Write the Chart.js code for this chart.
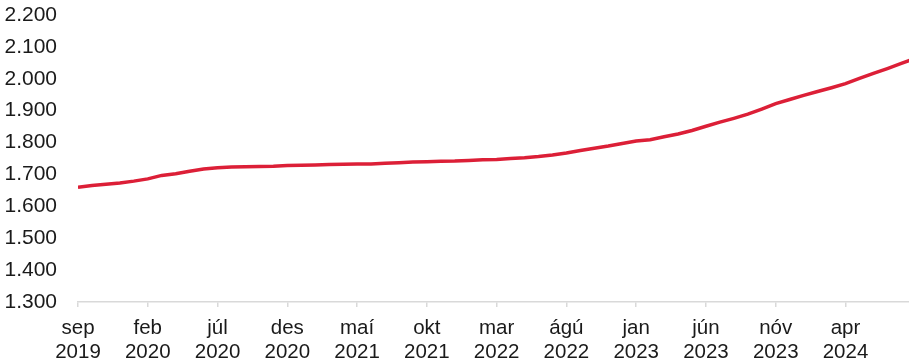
<!DOCTYPE html>
<html>
<head>
<meta charset="utf-8">
<script src="https://cdn.jsdelivr.net/npm/chart.js@4/dist/chart.umd.min.js"></script>
<style>
  html, body { margin: 0; padding: 0; background: #ffffff; overflow: hidden; }
  #wrap { position: relative; width: 909px; height: 362px; }
</style>
</head>
<body>
<div id="wrap"><canvas id="c"></canvas></div>
<script>
// Monthly series, sep 2019 – sep 2024
const months = [
  'sep 2019','okt 2019','nóv 2019','des 2019','jan 2020','feb 2020','mar 2020','apr 2020','maí 2020','jún 2020','júl 2020','ágú 2020',
  'sep 2020','okt 2020','nóv 2020','des 2020','jan 2021','feb 2021','mar 2021','apr 2021','maí 2021','jún 2021','júl 2021','ágú 2021',
  'sep 2021','okt 2021','nóv 2021','des 2021','jan 2022','feb 2022','mar 2022','apr 2022','maí 2022','jún 2022','júl 2022','ágú 2022',
  'sep 2022','okt 2022','nóv 2022','des 2022','jan 2023','feb 2023','mar 2023','apr 2023','maí 2023','jún 2023','júl 2023','ágú 2023',
  'sep 2023','okt 2023','nóv 2023','des 2023','jan 2024','feb 2024','mar 2024','apr 2024','maí 2024','jún 2024','júl 2024','ágú 2024',
  'sep 2024'
];
const values = [
  1660, 1665, 1669, 1673, 1679, 1686, 1697, 1702, 1710, 1717, 1721, 1723,
  1724, 1725, 1726, 1728, 1729, 1730, 1731, 1732, 1733, 1733, 1735, 1737,
  1739, 1740, 1741, 1742, 1744, 1746, 1747, 1750, 1752, 1756, 1761, 1767,
  1775, 1782, 1789, 1797, 1805, 1809, 1818, 1827, 1838, 1851, 1864, 1876,
  1889, 1905, 1922, 1935, 1948, 1960, 1972, 1985, 2001, 2017, 2032, 2048,
  2064
];
// Labelled months (every fifth month)
const tickMonths = [0, 5, 10, 15, 20, 25, 30, 35, 40, 45, 50, 55];
const yTicks = [1300, 1400, 1500, 1600, 1700, 1800, 1900, 2000, 2100, 2200];

function fmtThousands(v) {
  const s = String(Math.round(v));
  return s.replace(/\B(?=(\d{3})+(?!\d))/g, '.');
}

const points = values.map((v, i) => ({ x: i, y: v }));

new Chart(document.getElementById('c'), {
  type: 'line',
  data: {
    datasets: [{
      data: points,
      borderColor: '#DC1F37',
      borderWidth: 3.5,
      pointRadius: 0,
      tension: 0,
      fill: false
    }]
  },
  options: {
    responsive: true,
    maintainAspectRatio: false,
    animation: false,
    layout: { padding: { top: 15, right: 0, bottom: 0, left: 0 } },
    plugins: { legend: { display: false }, tooltip: { enabled: false } },
    scales: {
      x: {
        type: 'linear',
        min: 0,
        max: 59.55,
        afterBuildTicks: (scale) => {
          scale.ticks = tickMonths.map(v => ({ value: v }));
        },
        afterFit: (scale) => {
          scale.height = 60;
          scale.paddingTop = 0;
          scale.paddingLeft = 0;
          scale.paddingRight = 0;
          scale.paddingBottom = 0;
        },
        grid: { drawOnChartArea: false, drawTicks: true, tickLength: 5, color: '#d9d9d9', lineWidth: 1.5 },
        border: { display: true, color: '#d9d9d9', width: 1.5 },
        ticks: {
          padding: 9,
          maxRotation: 0,
          autoSkip: false,
          color: '#1a1a1a',
          font: { family: 'Liberation Sans, Arial, sans-serif', size: 20.5, lineHeight: 1.17 },
          callback: (v) => {
            const lab = months[Math.round(v)];
            return lab ? lab.split(' ') : '';
          }
        }
      },
      y: {
        min: 1300,
        max: 2200,
        afterBuildTicks: (scale) => {
          scale.ticks = yTicks.map(v => ({ value: v }));
        },
        afterFit: (scale) => {
          scale.width = 78;
          scale.paddingTop = 0;
          scale.paddingBottom = 0;
          scale.paddingLeft = 0;
          scale.paddingRight = 0;
        },
        grid: { display: false, drawTicks: false },
        border: { display: false },
        ticks: {
          padding: 21,
          color: '#1a1a1a',
          font: { family: 'Liberation Sans, Arial, sans-serif', size: 21 },
          callback: (v) => fmtThousands(v)
        }
      }
    }
  }
});
</script>
</body>
</html>
